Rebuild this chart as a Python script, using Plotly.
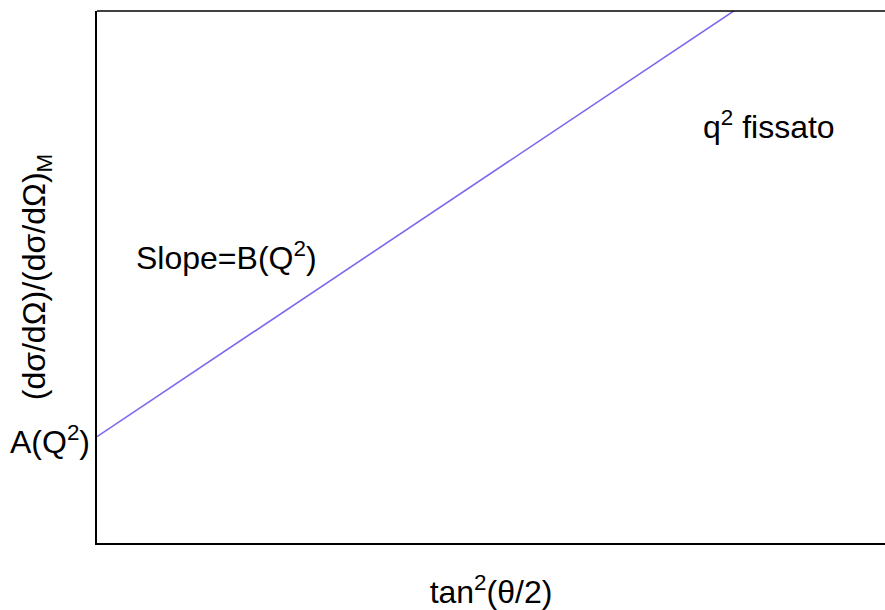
import plotly.graph_objects as go

# data
x_vals = [0.0, 1.0]
y_vals = [0.2, 1.19]
x_title = "tan<sup>2</sup>(θ/2)"
y_title = "(dσ/dΩ)/(dσ/dΩ)<sub>M</sub>"
label_intercept = "A(Q<sup>2</sup>)"
label_slope = "Slope=B(Q<sup>2</sup>)"
label_fixed = "q<sup>2</sup> fissato"

FONT = "Liberation Sans, Arial, Helvetica, sans-serif"
FS = 32

fig = go.Figure()
fig.add_trace(go.Scatter(x=x_vals, y=y_vals, mode="lines",
                         line=dict(color="#7B68EE", width=1.6),
                         showlegend=False, hoverinfo="skip"))

fig.update_layout(
    width=885, height=610,
    margin=dict(l=97, r=0, t=11, b=67),
    paper_bgcolor="white", plot_bgcolor="white",
    font=dict(family=FONT, size=FS, color="black"),
    xaxis=dict(range=[0, 1], showgrid=False, zeroline=False,
               showticklabels=False, ticks="", showline=True,
               linecolor="black", linewidth=1.5, mirror=False,
               title=dict(text=x_title, standoff=41, font=dict(size=FS))),
    yaxis=dict(range=[0, 1], showgrid=False, zeroline=False,
               showticklabels=False, ticks="", showline=True,
               linecolor="black", linewidth=1.5, mirror=False,
               title=dict(text=y_title, standoff=40, font=dict(size=FS))),
    shapes=[dict(type="line", xref="paper", yref="paper",
                 x0=0, x1=1, y0=1, y1=1,
                 line=dict(color="black", width=1.5))],
    annotations=[
        dict(text=label_intercept, xref="paper", yref="paper",
             x=-0.006, y=0.194, xanchor="right", yanchor="middle",
             showarrow=False, font=dict(size=FS)),
        dict(text=label_slope, xref="paper", yref="paper",
             x=0.164, y=0.539, xanchor="center", yanchor="middle",
             showarrow=False, font=dict(size=FS)),
        dict(text=label_fixed, xref="paper", yref="paper",
             x=0.853, y=0.786, xanchor="center", yanchor="middle",
             showarrow=False, font=dict(size=FS)),
    ],
)

fig.write_html("out.html", config={"displayModeBar": False},
               post_script="document.body.style.margin='0';document.body.style.overflow='hidden';")
